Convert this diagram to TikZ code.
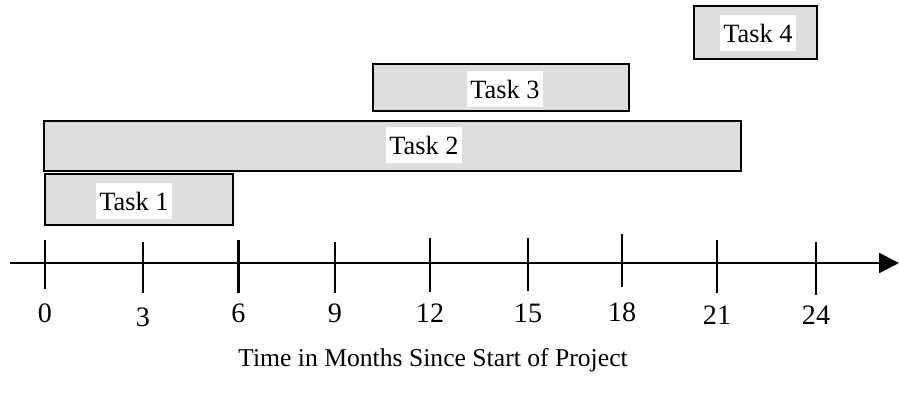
\documentclass[tikz,border=0pt]{standalone}
\usepackage{fontspec}
\setmainfont{Liberation Serif}
\usetikzlibrary{arrows.meta}
\definecolor{barfill}{RGB}{222,222,222}

\begin{document}
\begin{tikzpicture}[x=0.02cm,y=-0.02cm,line width=1.5pt,>={Triangle[length=0.4cm,width=0.4cm]},
  taskbar/.style={draw=black,fill=barfill},
  tasklabel/.style={fill=white,inner sep=2pt,minimum height=0.72cm,
    font=\fontsize{15}{18}\selectfont},
  ticklabel/.style={anchor=base,inner sep=0pt,font=\fontsize{16}{19}\selectfont}]
\useasboundingbox (0,0) rectangle (899,399);
% ================= task bars =================
\draw[taskbar] (45,174) rectangle (233,225);
\node[tasklabel] (t1) at (134,201) {Task 1};
\draw[taskbar] (44,121) rectangle (741,171);
\node[tasklabel] (t2) at (424,145) {Task 2};
\draw[taskbar] (373,64) rectangle (629,111);
\node[tasklabel] (t3) at (505,89) {Task 3};
\draw[taskbar] (694,6) rectangle (817,59);
\node[tasklabel] (t4) at (758,33) {Task 4};
% ================= time axis =================
\coordinate (axstart) at (10,263);
\coordinate (axend) at (899,263);
\draw[->] (axstart) -- (axend);
% ticks: month / x / top / bottom / label baseline
\foreach \m/\x/\t/\b/\l in {0/45/240/289/322, 3/143/242/293/326, 6/238.5/240/293/322,
    9/335/242/293/322, 12/430/238/292/322, 15/528/238/291/322,
    18/622/234/287/321, 21/717/240/293/324, 24/816/242/295/324}{
  \draw (\x,\t) -- (\x,\b);
  \node[ticklabel] (m\m) at (\x,\l) {\m};
}
\node[anchor=base,font=\fontsize{14.6}{17}\selectfont] (caption) at (433,366)
  {Time in Months Since Start of Project};
\end{tikzpicture}
\end{document}
